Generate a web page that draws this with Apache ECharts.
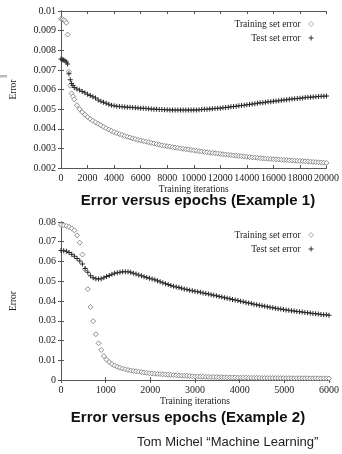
<!DOCTYPE html>
<html><head><meta charset="utf-8">
<script src="https://cdn.jsdelivr.net/npm/echarts@6/dist/echarts.min.js"></script>
<style>html,body{margin:0;padding:0;background:#fff}#c{width:342px;height:454px}</style>
</head><body><div id="c"></div>
<script>
// ---------- Example 1 data ----------
const iters1 = [0,100,200,300,400,500,600,700,800,900,1000,
1200,1400,1600,1800,2000,2200,2400,2600,2800,3000,3200,3400,3600,3800,4000,
4200,4400,4600,4800,5000,5200,5400,5600,5800,6000,6200,6400,6600,6800,7000,
7200,7400,7600,7800,8000,8200,8400,8600,8800,9000,9200,9400,9600,9800,10000,
10200,10400,10600,10800,11000,11200,11400,11600,11800,12000,12200,12400,12600,12800,13000,
13200,13400,13600,13800,14000,14200,14400,14600,14800,15000,15200,15400,15600,15800,16000,
16200,16400,16600,16800,17000,17200,17400,17600,17800,18000,18200,18400,18600,18800,19000,
19200,19400,19600,19800,20000];
const train1 = [0.0096,0.00958,0.00955,0.0095,0.0094,0.0088,0.0069,0.0062,0.0058,0.00565,0.0055,
0.0052,0.005,0.00485,0.00472,0.0046,
0.0045,0.00441,0.00433,0.00425,0.00418,
0.0041,0.00403,0.00396,0.00389,0.00383,
0.00378,0.00373,0.00368,0.00363,0.00359,
0.00355,0.00351,0.00347,0.00343,0.0034,
0.00337,0.00334,0.00331,0.00328,0.00325,
0.00322,0.00319,0.00316,0.00313,0.00311,
0.00309,0.00306,0.00304,0.00302,0.003,
0.00298,0.00296,0.00294,0.00292,0.0029,
0.00288,0.00286,0.00284,0.00282,0.0028,
0.00278,0.00277,0.00275,0.00274,0.00272,
0.0027,0.00269,0.00267,0.00266,0.00264,
0.00263,0.00261,0.0026,0.00258,0.00257,
0.00256,0.00254,0.00253,0.00252,0.0025,
0.00249,0.00248,0.00247,0.00246,0.00245,
0.00244,0.00243,0.00242,0.00241,0.0024,
0.00239,0.00238,0.00237,0.00237,0.00236,
0.00235,0.00234,0.00233,0.00232,0.00231,
0.0023,0.00229,0.00228,0.00227,0.00226];
const test1 = [0.00755,0.00752,0.0075,0.00746,0.0074,0.0073,0.0068,0.0065,0.0063,0.0062,0.0061,
0.00603,0.00597,0.0059,0.00583,0.00576,
0.0057,0.00563,0.00557,0.00547,0.0054,
0.00535,0.0053,0.00525,0.0052,0.00517,
0.00515,0.00514,0.00512,0.00511,0.0051,
0.00509,0.00508,0.00507,0.00506,0.00505,
0.00504,0.00503,0.00502,0.00501,0.005,
0.00499,0.00498,0.00498,0.00497,0.00497,
0.00496,0.00496,0.00495,0.00495,0.00495,
0.00495,0.00495,0.00495,0.00495,0.00496,
0.00496,0.00497,0.00498,0.00499,0.005,
0.00501,0.00502,0.00503,0.00504,0.00505,
0.00507,0.00508,0.0051,0.00512,0.00513,
0.00515,0.00517,0.00519,0.0052,0.00522,
0.00524,0.00526,0.00528,0.0053,0.00532,
0.00533,0.00535,0.00537,0.00538,0.0054,
0.00542,0.00543,0.00545,0.00546,0.00548,
0.0055,0.00551,0.00553,0.00554,0.00556,
0.00557,0.00559,0.0056,0.00561,0.00562,
0.00563,0.00564,0.00565,0.00566,0.00567];

// ---------- Example 2 data ----------
const iters2 = [0,60,120,180,240,300,360,420,480,540,
600,660,720,780,840,900,960,1020,1080,1140,
1200,1260,1320,1380,1440,1500,1560,1620,1680,1740,
1800,1860,1920,1980,2040,2100,2160,2220,2280,2340,
2400,2460,2520,2580,2640,2700,2760,2820,2880,2940,
3000,3060,3120,3180,3240,3300,3360,3420,3480,3540,
3600,3660,3720,3780,3840,3900,3960,4020,4080,4140,
4200,4260,4320,4380,4440,4500,4560,4620,4680,4740,
4800,4860,4920,4980,5040,5100,5160,5220,5280,5340,
5400,5460,5520,5580,5640,5700,5760,5820,5880,5940,
6000];
const train2 = [0.0785,0.0783,0.078,0.0775,0.0768,0.0758,0.0732,0.0695,0.0635,0.056,
0.046,0.037,0.0298,0.0232,0.0186,0.0152,0.0121,0.0103,0.0091,0.0081,
0.0073,0.0067,0.0062,0.0058,0.0054,0.0051,0.0048,0.0046,0.0044,0.0042,
0.004,0.0038,0.0036,0.0034,0.0033,0.0032,0.0031,0.003,0.0029,0.0028,
0.0027,0.0026,0.0025,0.0024,0.0023,0.0022,0.0021,0.0021,0.002,0.0019,
0.0018,0.0018,0.0017,0.0017,0.0016,0.0016,0.0015,0.0015,0.0015,0.0014,
0.0014,0.0014,0.0013,0.0013,0.0013,0.0013,0.0012,0.0012,0.0012,0.0012,
0.0011,0.0011,0.0011,0.0011,0.0011,0.001,0.001,0.001,0.001,0.001,
0.001,0.001,0.00095,0.00095,0.00095,0.00095,0.0009,0.0009,0.0009,0.0009,
0.0009,0.00088,0.00088,0.00086,0.00086,0.00085,0.00084,0.00083,0.00082,0.00081,
0.0008];
const test2 = [0.0656,0.0655,0.0652,0.0645,0.0637,0.0626,0.0615,0.0603,0.0587,0.0565,
0.0545,0.0528,0.0518,0.0513,0.0511,0.0513,0.0518,0.0524,0.0529,0.0535,
0.054,0.0543,0.0546,0.0548,0.0548,0.0548,0.0545,0.0541,0.0537,0.0532,
0.0528,0.0523,0.0519,0.0515,0.0511,0.0507,0.0502,0.0497,0.0492,0.0487,
0.0483,0.0479,0.0475,0.0471,0.0468,0.0464,0.0461,0.0458,0.0455,0.0452,
0.045,0.0447,0.0444,0.0441,0.0438,0.0435,0.0432,0.0429,0.0426,0.0423,
0.042,0.0417,0.0414,0.0411,0.0408,0.0405,0.0402,0.0399,0.0396,0.0393,
0.039,0.0387,0.0384,0.0381,0.0378,0.0376,0.0373,0.0371,0.0368,0.0366,
0.0363,0.0361,0.0359,0.0357,0.0355,0.0353,0.0351,0.0349,0.0347,0.0345,
0.0344,0.0342,0.034,0.0339,0.0337,0.0335,0.0334,0.0332,0.0331,0.033,
0.0328];

const seriesNames = ['Training set error', 'Test set error'];
const titles = ['Error versus epochs (Example 1)', 'Error versus epochs (Example 2)'];
const xAxisName = 'Training iterations';
const yAxisName = 'Error';
const credit = 'Tom Michel \u201cMachine Learning\u201d';
const xRange1 = [0, 20000, 2000];
const yRange1 = [0.002, 0.01, 0.001];
const xRange2 = [0, 6000, 1000];
const yRange2 = [0, 0.08, 0.01];

const zip = (xs, ys) => xs.map((x, i) => [x, ys[i]]);

const serif = 'Liberation Serif';
const axisCol = '#555';
const plusPath = 'path://M2,0H3V2H5V3H3V5H2V3H0V2H2Z';
const trainStyle = { color: '#fff', borderColor: '#808080', borderWidth: 0.9, opacity: 1 };
const testStyle = { color: '#2a2a2a', opacity: 1 };

function xAx(gi, r, main) {
  return {
    type: 'value', gridIndex: gi, min: r[0], max: r[1], interval: r[2],
    position: main ? 'bottom' : 'top',
    name: main ? xAxisName : '', nameLocation: 'middle', nameGap: 16,
    nameTextStyle: { fontFamily: serif, fontSize: 9.5, color: '#222' },
    axisLine: { show: true, lineStyle: { color: axisCol, width: 1 } },
    axisTick: { show: true, inside: true, length: 3, lineStyle: { color: axisCol } },
    axisLabel: { show: main, fontFamily: serif, fontSize: 10, color: '#1a1a1a', margin: 5,
      showMaxLabel: true, showMinLabel: true, formatter: v => String(v) },
    splitLine: { show: false }
  };
}
function yAx(gi, r, main) {
  return {
    type: 'value', gridIndex: gi, min: r[0], max: r[1], interval: r[2],
    position: main ? 'left' : 'right',
    name: main ? yAxisName : '', nameLocation: 'middle', nameGap: 43,
    nameTextStyle: { fontFamily: serif, fontSize: 9.5, color: '#222' },
    axisLine: { show: true, lineStyle: { color: axisCol, width: 1 } },
    axisTick: { show: true, inside: true, length: 3, lineStyle: { color: axisCol } },
    axisLabel: { show: main, fontFamily: serif, fontSize: 10, color: '#1a1a1a', margin: 5 },
    splitLine: { show: false }
  };
}
function trainSeries(ai, data) {
  return {
    name: seriesNames[0], type: 'scatter', xAxisIndex: ai, yAxisIndex: ai,
    data: data, symbol: 'diamond', symbolSize: 5,
    itemStyle: trainStyle, z: 2
  };
}
function testSeries(ai, data) {
  return {
    name: seriesNames[1], type: 'scatter', xAxisIndex: ai, yAxisIndex: ai,
    data: data, symbol: plusPath, symbolSize: 5,
    itemStyle: testStyle, z: 3
  };
}
function legendAt(top) {
  return {
    data: [
      { name: seriesNames[0], icon: 'diamond', itemStyle: { color: '#fff', borderColor: '#999', borderWidth: 0.8 } },
      { name: seriesNames[1], icon: plusPath, itemStyle: { color: '#333', borderWidth: 0 } }
    ],
    orient: 'vertical', align: 'right', right: 28, top: top,
    itemWidth: 5, itemHeight: 5, itemGap: 4, padding: 0,
    textStyle: { fontFamily: serif, fontSize: 9.5, color: '#222', padding: [0, 3, 0, 0] },
    selectedMode: false
  };
}

const chart = echarts.init(document.getElementById('c'), null, { renderer: 'canvas' });
chart.setOption({
  animation: false,
  backgroundColor: '#fff',
  grid: [
    { left: 61, top: 11, width: 271, height: 157 },
    { left: 61, top: 222, width: 271, height: 158 }
  ],
  xAxis: [xAx(0, xRange1, true), xAx(0, xRange1, false), xAx(1, xRange2, true), xAx(1, xRange2, false)],
  yAxis: [yAx(0, yRange1, true), yAx(0, yRange1, false), yAx(1, yRange2, true), yAx(1, yRange2, false)],
  legend: [legendAt(19), legendAt(230)],
  title: [
    { text: titles[0], left: 198, top: 193, textAlign: 'center', padding: 0,
      textStyle: { fontFamily: 'Liberation Sans', fontWeight: 'bold', fontSize: 15, color: '#111' } },
    { text: titles[1], left: 188, top: 410, textAlign: 'center', padding: 0,
      textStyle: { fontFamily: 'Liberation Sans', fontWeight: 'bold', fontSize: 15, color: '#111' } }
  ],
  graphic: [
    { type: 'text', left: 137, top: 436, style: { text: credit, fontFamily: 'Liberation Sans', fontSize: 13, fill: '#222' } },
    { type: 'rect', shape: { x: 0, y: 75, width: 7, height: 2.5 }, style: { fill: '#bbb' } }
  ],
  series: [
    trainSeries(0, zip(iters1, train1)),
    testSeries(0, zip(iters1, test1)),
    trainSeries(2, zip(iters2, train2)),
    testSeries(2, zip(iters2, test2))
  ]
});
</script>
</body></html>
